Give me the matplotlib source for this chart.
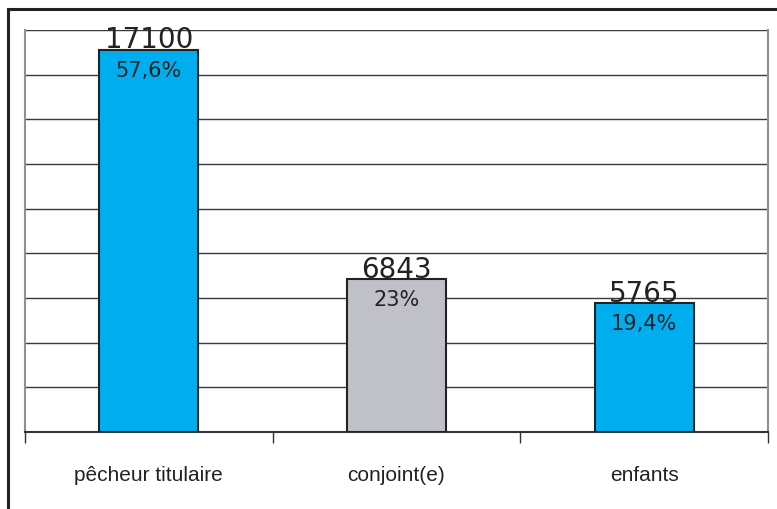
import matplotlib.pyplot as plt
from matplotlib.patches import Rectangle
from matplotlib.ticker import MultipleLocator, FixedLocator

categories = ['pêcheur titulaire', 'conjoint(e)', 'enfants']
values = [17100, 6843, 5765]
percents = ['57,6%', '23%', '19,4%']
colors = ['#00adef', '#c0c0c8', '#00adef']

fig = plt.figure(figsize=(7.77, 5.10), dpi=100)
ax = fig.add_axes([25 / 777, 77 / 510, 743 / 777, 402 / 510])

x = range(len(categories))
ax.bar(x, values, width=0.4, color=colors, edgecolor='#222222', linewidth=1.5, zorder=3)

ax.set_xlim(-0.5, len(categories) - 0.5)
ax.set_ylim(0, 18000)
ax.yaxis.set_major_locator(MultipleLocator(2000))
ax.grid(axis='y', color='#3a3a3a', linewidth=1, zorder=0)
ax.tick_params(axis='y', left=False, labelleft=False)
ax.axhline(18000, color='#909090', linewidth=1.5, zorder=1)

ax.set_xticks(list(x))
ax.set_xticklabels(categories, fontsize=15, color='#222222',
                   family=['Liberation Sans', 'DejaVu Sans'])
ax.tick_params(axis='x', which='major', length=0, pad=24)
ax.xaxis.set_minor_locator(FixedLocator([-0.5, 0.5, 1.5, 2.5]))
ax.tick_params(axis='x', which='minor', length=8, width=1, color='#333333')

for side in ['left', 'right']:
    ax.spines[side].set_color('#909090')
    ax.spines[side].set_linewidth(1.5)
ax.spines['top'].set_visible(False)
ax.spines['bottom'].set_color('#333333')
ax.spines['bottom'].set_linewidth(1.5)

for i, (v, p) in enumerate(zip(values, percents)):
    ax.text(i, v - 150, str(v), ha='center', va='bottom', fontsize=20, color='#222222', zorder=4)
    ax.text(i, v - 450, p, ha='center', va='top', fontsize=15, color='#222222', zorder=4)

# outer frame
fig.patches.append(Rectangle((8 / 777, -0.1), 1.0, (500 / 510) + 0.1, transform=fig.transFigure,
                             fill=False, edgecolor='#222222', linewidth=2.2))

fig.savefig('out.png', dpi=100)
